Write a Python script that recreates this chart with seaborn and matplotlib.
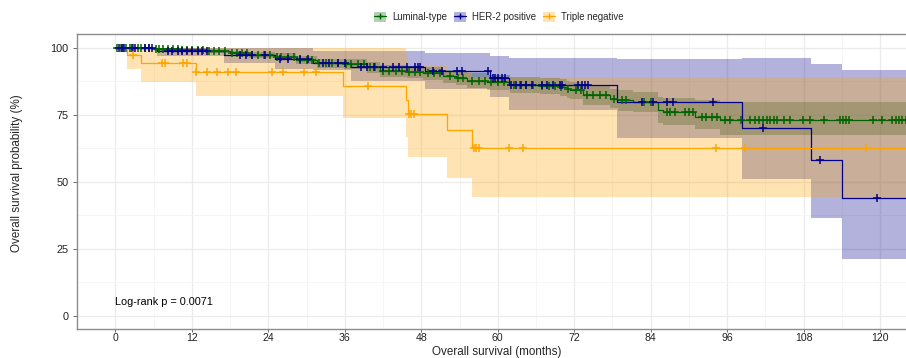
import numpy as np
import pandas as pd
import matplotlib
matplotlib.use("Agg")
import matplotlib.pyplot as plt
import seaborn as sns
from matplotlib.patches import Patch
from matplotlib.lines import Line2D
from matplotlib.ticker import MultipleLocator

# ---------------- data ----------------
group_names = ["Luminal-type", "HER-2 positive", "Triple negative"]
group_colors = ["#006400", "#00008B", "#FFA500"]
end_time = 125.0

lum_time = [0, 2, 6, 10, 14, 18, 21, 25, 28.4, 31.6, 35.8, 39.4, 41.5, 45.7, 48.3,
            51.4, 53.5, 55.1, 58.3, 61.9, 66.6, 69.8, 70.8, 71.4, 73.4, 77.6, 78.9,
            81.3, 85.2, 86.0, 90.9, 94.9]
lum_surv = [100, 99.7, 99.3, 99.0, 98.6, 97.9, 97.4, 96.6, 95.4, 94.1, 93.8, 92.6, 91.3,
            91.0, 90.4, 89.3, 88.5, 87.7, 87.1, 86.1, 85.8, 85.2, 84.4, 84.0, 82.2, 81.0,
            80.3, 79.7, 76.7, 76.1, 74.2, 73.0]
lum_lower = [100, 99.3, 98.7, 98.3, 97.8, 96.9, 96.3, 95.3, 93.9, 92.4, 92.0, 90.6, 89.1,
             88.8, 88.0, 86.8, 85.9, 85.0, 84.3, 83.2, 82.8, 82.1, 81.2, 80.7, 78.7, 77.3,
             76.5, 75.8, 72.0, 71.0, 69.6, 67.5]
lum_upper = [100, 100, 99.9, 99.7, 99.4, 98.9, 98.5, 97.9, 96.9, 95.8, 95.6, 94.6, 93.5,
             93.3, 92.8, 91.8, 91.1, 90.4, 89.9, 89.0, 88.8, 88.3, 87.6, 87.3, 85.7, 84.7,
             84.1, 83.6, 81.6, 81.3, 80.4, 79.7]
lum_censor = [0.3, 0.8, 1.2, 1.6, 2.2, 2.8, 3.5, 4.0, 4.6, 5.3, 6.4, 6.8, 7.5, 8.2, 9.0,
              9.8, 10.5, 11.3, 12.0, 13.0, 13.8, 14.6, 15.5, 16.3, 17.2, 18.3, 19.0, 19.8,
              20.6, 21.5, 22.4, 23.3, 24.2, 25.3, 26.0, 27.0, 28.0, 29.0, 30.0, 30.8, 32.0,
              33.0, 34.0, 35.0, 36.2, 37.0, 38.0, 39.0, 40.0, 40.8, 42.0, 43.0, 44.0, 45.0,
              46.0, 47.0, 47.8, 49.0, 50.0, 51.0, 52.5, 53.8, 54.5, 56.0, 57.0, 58.0, 59.0,
              60.0, 61.0, 62.5, 63.5, 64.5, 65.5, 67.0, 68.0, 69.0, 70.0, 71.0, 72.3, 73.0,
              74.0, 75.0, 76.0, 77.0, 78.2, 79.5, 80.2, 83.0, 84.0, 86.5, 87.0, 87.8, 89.4,
              90.0, 90.7, 92.0, 92.7, 93.6, 94.4, 95.7, 96.4, 98.2, 99.6, 100.3, 101.0,
              101.6, 102.2, 102.8, 103.3, 103.9, 105.0, 105.9, 107.9, 109.0, 111.2, 113.7,
              114.2, 114.7, 115.1, 118.9, 120.3, 121.9, 122.5, 123.0, 123.5, 124.0]

her_time = [0, 6.5, 17, 25, 31, 37, 48.6, 58.8, 61.7, 78.7, 98.3, 109.2, 114.1]
her_surv = [100, 98.9, 97.1, 95.9, 94.1, 92.9, 91.3, 88.8, 86.0, 79.7, 70.0, 58.1, 44.0]
her_lower = [100, 97.0, 94.4, 92.2, 91.5, 87.7, 84.6, 81.6, 76.7, 66.3, 51.0, 36.4, 21.1]
her_upper = [100, 100, 100, 100, 98.6, 98.6, 98.0, 97.0, 96.2, 95.6, 96.0, 94.0, 91.6]
her_censor = [0.5, 1.0, 1.4, 2.6, 3.0, 4.6, 5.3, 5.8, 8.2, 8.8, 9.8, 10.5, 11.2, 12.0, 13.0,
              13.6, 14.4, 19.5, 20.5, 21.5, 23.5, 25.8, 27.0, 29.0, 30.2, 32.5, 33.5, 35.0,
              36.0, 38.5, 39.5, 40.5, 42.0, 43.5, 44.5, 45.7, 47.0, 47.5, 47.8, 49.9, 51.2,
              53.6, 54.4, 58.5, 59.2, 59.6, 60.1, 60.6, 61.1, 62.0, 62.8, 63.6, 64.4, 65.4,
              67.0, 67.8, 68.6, 69.8, 70.1, 72.6, 73.2, 73.7, 74.2, 82.6, 84.4, 86.5, 87.5,
              93.8, 101.6, 110.5, 119.5]

tn_time = [0, 1.76, 4.0, 12.6, 35.7, 45.6, 45.9, 52.0, 56.0]
tn_surv = [100, 97.4, 94.4, 91.0, 85.8, 80.6, 75.2, 69.1, 62.6]
tn_lower = [100, 91.9, 87.1, 82.0, 73.6, 66.5, 59.3, 51.4, 44.3]
tn_upper = [100, 100, 100, 100, 100, 97.5, 93.2, 91.0, 88.9]
tn_censor = [2.8, 7.25, 7.8, 10.6, 11.2, 12.7, 14.4, 15.9, 17.6, 18.9, 24.5, 26.3, 29.6,
             31.5, 39.7, 46.0, 46.4, 46.8, 56.2, 56.6, 57.1, 61.8, 63.9, 94.3, 98.8, 117.8]

pvalue_text = "Log-rank p = 0.0071"
x_ticks = list(range(0, 121, 12))
y_ticks = [0, 25, 50, 75, 100]

# ---------------- style ----------------
sns.set_theme(style="white")
plt.rcParams["font.family"] = ["Liberation Sans", "DejaVu Sans"]

W, H = 906, 358
fig = plt.figure(figsize=(W / 100, H / 100), dpi=100)
ax_top, ax_bot = 34.2, 329.0
ax = fig.add_axes([77 / W, 1 - ax_bot / H, (912 - 77) / W, (ax_bot - ax_top) / H])

groups = [
    (lum_time, lum_surv, lum_lower, lum_upper, lum_censor),
    (her_time, her_surv, her_lower, her_upper, her_censor),
    (tn_time, tn_surv, tn_lower, tn_upper, tn_censor),
]

for (t, s, lo, hi, cens), col in zip(groups, group_colors):
    tt = np.array(list(t) + [end_time])
    ll = np.array(list(lo) + [lo[-1]])
    uu = np.array(list(hi) + [hi[-1]])
    ax.fill_between(tt, ll, uu, step="post", color=col, alpha=0.3, lw=0, zorder=2)

for (t, s, lo, hi, cens), col in zip(groups, group_colors):
    tt = list(t) + [end_time]
    ss = list(s) + [s[-1]]
    df = pd.DataFrame({"time": tt, "surv": ss})
    sns.lineplot(data=df, x="time", y="surv", drawstyle="steps-post", color=col,
                 lw=0.9, ax=ax, estimator=None, sort=False, zorder=3)
    idx = np.searchsorted(np.array(t), np.array(cens), side="right") - 1
    cy = np.array(s)[idx]
    sns.scatterplot(x=cens, y=cy, marker="+", s=30, color=col, edgecolor=col,
                    linewidth=1.1, ax=ax, zorder=4)

ax.set_xlim(-6.04, 124.7 + (912 - 910) / 6.37)
ax.set_ylim(-5, 105)
ax.set_xticks(x_ticks)
ax.set_yticks(y_ticks)
ax.xaxis.set_minor_locator(MultipleLocator(6))
ax.yaxis.set_minor_locator(MultipleLocator(12.5))
ax.grid(which="major", color="#EBEBEB", lw=0.9, zorder=0)
ax.grid(which="minor", color="#F4F4F4", lw=0.6, zorder=0)
ax.set_axisbelow(True)
ax.tick_params(which="minor", length=0)
ax.tick_params(axis="y", which="major", length=3, width=0.6, color="#555555",
               pad=3.0, labelsize=7.8, labelcolor="#222222", left=True)
ax.tick_params(axis="x", which="major", length=2, width=0.6, color="#555555",
               pad=1.0, labelsize=7.6, labelcolor="#222222", bottom=True)
for sp in ax.spines.values():
    sp.set_color("#8c8c8c")
    sp.set_linewidth(1.0)
ax.set_xlabel("")
ax.set_ylabel("")

ax.text(0, 5.1, pvalue_text, ha="left", va="center", fontsize=7.8, color="black")

fig.text(17 / W, 1 - 173.5 / H, "Overall survival probability (%)", rotation=90,
         ha="center", va="center", fontsize=8.4)
fig.text(496.5 / W, 0.3 / H, "Overall survival (months)", ha="center",
         va="bottom", fontsize=8.4)

handles = [(Patch(facecolor=c, alpha=0.3, edgecolor="none"),
            Line2D([], [], color=c, lw=0.9, marker="+", markersize=5, mew=1.0))
           for c in group_colors]
fig.legend(handles, group_names, loc="center", bbox_to_anchor=(498.5 / W, 1 - 17 / H),
           ncol=3, frameon=False, fontsize=6.9, handlelength=1.3, handleheight=1.3,
           handletextpad=0.6, columnspacing=0.7)

fig.savefig("out.png", dpi=100)
